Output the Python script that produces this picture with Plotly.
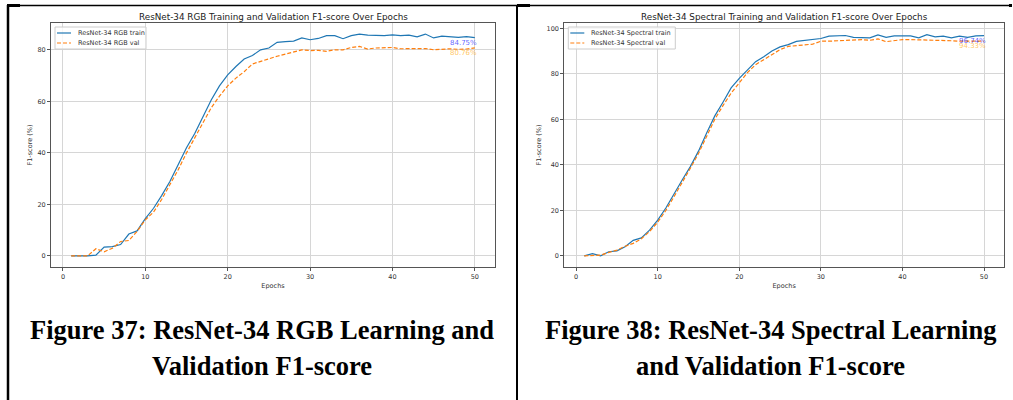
import plotly.graph_objects as go

W, H = 1013, 400

epochs = list(range(1, 51))

rgb_train = [0, 0, 0, 0.3, 3.4, 3.6, 4.4, 8.5, 9.7, 14.5,
             18.5, 23.5, 29.0, 35.5, 42.0, 47.5, 54.0, 60.5, 66.0, 70.3,
             73.5, 76.4, 77.8, 80.0, 80.7, 82.9, 83.2, 83.4, 84.6, 83.9,
             84.4, 85.5, 85.5, 84.3, 85.5, 86.1, 85.7, 85.5, 85.5, 85.8,
             85.5, 85.7, 85.0, 86.1, 84.6, 85.3, 85.1, 84.8, 85.1, 84.75]
rgb_val = [0, 0, 0, 2.8, 1.6, 3.0, 5.6, 6.0, 9.5, 14.0,
           17.0, 22.0, 27.5, 33.5, 40.0, 46.0, 52.0, 57.5, 62.0, 66.0,
           69.0, 71.5, 74.5, 75.6, 76.5, 77.5, 78.3, 79.0, 80.0, 79.7,
           79.8, 79.4, 80.0, 80.0, 80.9, 81.3, 80.3, 80.7, 80.7, 80.9,
           80.4, 80.4, 80.4, 80.5, 80.0, 80.3, 80.4, 80.2, 80.3, 80.76]
spec_train = [0, 1.0, 0, 1.8, 2.2, 4.0, 6.8, 7.9, 11.3, 15.7,
              21.0, 27.3, 33.3, 39.2, 46.0, 54.0, 61.5, 67.5, 73.8, 78.0,
              81.8, 85.3, 87.5, 90.0, 91.8, 92.8, 94.2, 94.7, 95.0, 95.5,
              96.5, 96.6, 96.8, 96.0, 96.0, 95.8, 97.1, 96.0, 96.6, 96.6,
              96.6, 95.8, 97.2, 96.2, 96.5, 95.8, 96.5, 96.0, 96.6, 96.74]
spec_val = [0, 0, 0.3, 1.5, 2.5, 4.2, 5.5, 7.5, 10.7, 14.8,
            20.0, 26.0, 32.0, 38.5, 45.0, 52.5, 60.0, 66.0, 71.5, 76.0,
            80.5, 84.0, 86.2, 88.5, 90.6, 92.0, 92.5, 92.7, 93.0, 94.3,
            94.3, 94.5, 94.7, 95.0, 95.0, 94.7, 95.3, 94.1, 94.7, 95.0,
            95.0, 94.9, 94.9, 94.9, 94.9, 94.5, 94.3, 94.3, 94.6, 94.33]

x_ticks = [0, 10, 20, 30, 40, 50]
rgb_y_ticks = [0, 20, 40, 60, 80]
spec_y_ticks = [0, 20, 40, 60, 80, 100]

rgb_names = ["ResNet-34 RGB train", "ResNet-34 RGB val"]
spec_names = ["ResNet-34 Spectral train", "ResNet-34 Spectral val"]
titles = ["ResNet-34 RGB Training and Validation F1-score Over Epochs",
          "ResNet-34 Spectral Training and Validation F1-score Over Epochs"]
captions = [["Figure 37: ResNet-34 RGB Learning and", "Validation F1-score"],
            ["Figure 38: ResNet-34 Spectral Learning", "and Validation F1-score"]]

BLUE = "#1f77b4"
ORANGE = "#ff7f0e"
FONT = "DejaVu Sans"


def px(x):
    return x / W


def py(y):
    return 1 - y / H


fig = go.Figure()

panels = [
    dict(train=rgb_train, val=rgb_val, names=rgb_names, yt=rgb_y_ticks,
         xd=(51, 495), yr=(-4.3, 90.4), xa="x", ya="y"),
    dict(train=spec_train, val=spec_val, names=spec_names, yt=spec_y_ticks,
         xd=(564.3, 1004), yr=(-4.9, 102.3), xa="x2", ya="y2"),
]

shapes = []
annotations = []

for i, p in enumerate(panels):
    fig.add_trace(go.Scatter(x=epochs, y=p["train"], mode="lines", name=p["names"][0],
                             line=dict(color=BLUE, width=1.2),
                             xaxis=p["xa"], yaxis=p["ya"], showlegend=False))
    fig.add_trace(go.Scatter(x=epochs, y=p["val"], mode="lines", name=p["names"][1],
                             line=dict(color=ORANGE, width=1.2, dash="4px,2px"),
                             xaxis=p["xa"], yaxis=p["ya"], showlegend=False))

    sfx = "" if i == 0 else "2"
    axis_common = dict(showline=True, mirror=True, linecolor="#555", linewidth=1,
                       ticks="outside", ticklen=3, tickcolor="#555", tickwidth=0.8,
                       tickfont=dict(family=FONT, size=6.5, color="#333"),
                       showgrid=True, gridcolor="#d6d6d6", gridwidth=1, zeroline=False)
    fig.update_layout({
        "xaxis" + sfx: dict(axis_common, domain=[px(p["xd"][0]), px(p["xd"][1])],
                            range=[-1.45, 52.45], tickvals=x_ticks,
                            anchor="y" + sfx,
                            title=dict(text="Epochs", standoff=3,
                                       font=dict(family=FONT, size=6.5, color="#333"))),
        "yaxis" + sfx: dict(axis_common, domain=[py(267), py(23)],
                            range=list(p["yr"]), tickvals=p["yt"],
                            anchor="x" + sfx,
                            title=dict(text="F1-score (%)", standoff=4,
                                       font=dict(family=FONT, size=6.5, color="#333"))),
    })

    # final-epoch value labels
    annotations.append(dict(x=epochs[-1], y=p["train"][-1], xref=p["xa"], yref=p["ya"],
                            text=f"{p['train'][-1]:.2f}%", showarrow=False,
                            xanchor="right", yanchor="top", xshift=3, borderpad=0,
                            font=dict(family=FONT, size=7, color="rgba(0,0,255,0.65)")))
    annotations.append(dict(x=epochs[-1], y=p["val"][-1], xref=p["xa"], yref=p["ya"],
                            text=f"{p['val'][-1]:.2f}%", showarrow=False,
                            xanchor="right", yanchor="top", xshift=3, borderpad=0,
                            font=dict(family=FONT, size=7, color="rgba(255,165,0,0.65)")))

    # panel title
    cx = (p["xd"][0] + p["xd"][1]) / 2
    annotations.append(dict(x=px(cx), y=py(17), xref="paper", yref="paper",
                            text=titles[i], showarrow=False, xanchor="center",
                            yanchor="middle",
                            font=dict(family=FONT, size=8.8, color="#222")))

    # legend box
    lx0 = p["xd"][0] + 4
    lx1 = lx0 + (91 if i == 0 else 107)
    shapes.append(dict(type="rect", xref="paper", yref="paper",
                       x0=px(lx0), x1=px(lx1), y0=py(49), y1=py(27),
                       line=dict(color="#cccccc", width=1),
                       fillcolor="rgba(255,255,255,0.8)", layer="above"))
    for k, (yy, col) in enumerate([(33, BLUE), (43, ORANGE)]):
        shapes.append(dict(type="line", xref="paper", yref="paper",
                           x0=px(lx0 + 2), x1=px(lx0 + 16), y0=py(yy), y1=py(yy),
                           line=dict(color=col, width=1.2,
                                     dash="solid" if k == 0 else "4px,2px"),
                           layer="above"))
        annotations.append(dict(x=px(lx0 + 21), y=py(yy), xref="paper", yref="paper",
                                text=p["names"][k], showarrow=False, xanchor="left",
                                yanchor="middle",
                                font=dict(family=FONT, size=6.5, color="#333")))

# figure captions
cap_cx = [262, 770]
for i in range(2):
    for j, line_y in enumerate([330, 366]):
        annotations.append(dict(x=px(cap_cx[i]), y=py(line_y), xref="paper", yref="paper",
                                text=captions[i][j], showarrow=False, xanchor="center",
                                yanchor="middle",
                                font=dict(family="Liberation Serif", size=26.5,
                                          color="black", weight="bold")))

# table borders
border = [
    (7, 5.5, 1012, 5.5, 1.6),
    (8, 5, 8, 400, 2.5),
    (517, 5, 517, 400, 2),
    (7, 5.5, 20, 5.5, 3),
    (517, 5.5, 530, 5.5, 3),
    (1009, 5.5, 1012, 5.5, 3),
]
for x0, y0, x1, y1, wdt in border:
    shapes.append(dict(type="line", xref="paper", yref="paper",
                       x0=px(x0), y0=py(y0), x1=px(x1), y1=py(y1),
                       line=dict(color="black", width=wdt)))

fig.update_layout(width=W, height=H, margin=dict(l=0, r=0, t=0, b=0),
                  paper_bgcolor="white", plot_bgcolor="white",
                  shapes=shapes, annotations=annotations, showlegend=False)

fig.write_html("out.html", include_plotlyjs=True, config={"displayModeBar": False})
